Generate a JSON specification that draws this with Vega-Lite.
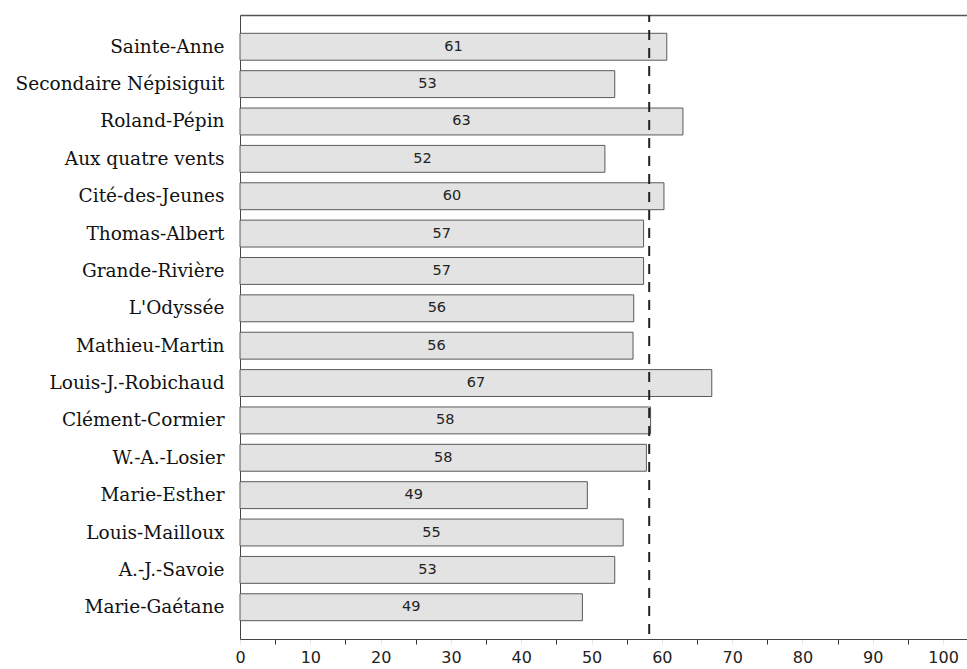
{
  "$schema": "https://vega.github.io/schema/vega-lite/v6.json",
  "width": 727,
  "height": 624,
  "autosize": {"type": "none"},
  "padding": {"left": 240, "top": 15, "right": 0, "bottom": 30},
  "background": "white",
  "config": {"view": {"stroke": null}},
  "data": {
    "values": [
      {"school": "Sainte-Anne", "score": 60.7},
      {"school": "Secondaire Népisiguit", "score": 53.3},
      {"school": "Roland-Pépin", "score": 63.0},
      {"school": "Aux quatre vents", "score": 51.9},
      {"school": "Cité-des-Jeunes", "score": 60.3},
      {"school": "Thomas-Albert", "score": 57.4},
      {"school": "Grande-Rivière", "score": 57.4},
      {"school": "L'Odyssée", "score": 56.0},
      {"school": "Mathieu-Martin", "score": 55.9},
      {"school": "Louis-J.-Robichaud", "score": 67.1},
      {"school": "Clément-Cormier", "score": 58.4},
      {"school": "W.-A.-Losier", "score": 57.8},
      {"school": "Marie-Esther", "score": 49.4},
      {"school": "Louis-Mailloux", "score": 54.5},
      {"school": "A.-J.-Savoie", "score": 53.3},
      {"school": "Marie-Gaétane", "score": 48.7}
    ]
  },
  "layer": [
    {
      "mark": {"type": "bar", "fill": "#e3e3e3", "stroke": "#5a5a5a", "strokeWidth": 1},
      "encoding": {
        "y": {
          "field": "school", "type": "nominal", "sort": null,
          "scale": {"paddingInner": 0.28, "paddingOuter": 0.49},
          "axis": {"title": null, "ticks": false, "labelFont": "DejaVu Serif", "labelFontSize": 18.5, "labelColor": "#111", "labelPadding": 16, "domainColor": "#444", "labelLimit": 0}
        },
        "x": {
          "field": "score", "type": "quantitative",
          "scale": {"domain": [0, 103.4], "nice": false},
          "axis": {
            "title": null,
            "values": [0, 5, 10, 15, 20, 25, 30, 35, 40, 45, 50, 55, 60, 65, 70, 75, 80, 85, 90, 95, 100],
            "labelExpr": "datum.value % 10 === 0 ? datum.label : ''",
            "tickColor": {"condition": {"test": "datum.value % 10 === 0", "value": "#e6e6e6"}, "value": "#333333"},
            "tickSize": 5,
            "domainColor": "#444",
            "labelFont": "DejaVu Sans",
            "labelFontSize": 16,
            "labelColor": "#222",
            "labelPadding": 5,
            "labelFlush": false,
            "labelOverlap": false,
            "grid": false
          }
        }
      }
    },
    {
      "data": {"values": [{"reference": 58.2}]},
      "mark": {"type": "rule", "strokeDash": [10, 8], "strokeDashOffset": 3, "strokeWidth": 2, "color": "#222"},
      "encoding": {
        "x": {
          "field": "reference", "type": "quantitative",
          "scale": {"domain": [0, 103.4], "nice": false},
          "axis": {"orient": "top", "title": null, "labels": false, "ticks": false, "domainColor": "#555", "domainWidth": 1.5, "grid": false}
        }
      }
    },
    {
      "mark": {"type": "text", "font": "DejaVu Sans", "fontSize": 14.5, "color": "#222"},
      "encoding": {
        "y": {"field": "school", "type": "nominal", "sort": null},
        "x": {"field": "score", "type": "quantitative", "scale": {"domain": [0, 206.8], "nice": false}, "axis": null},
        "text": {"field": "score", "type": "quantitative", "format": ".0f"}
      }
    }
  ],
  "resolve": {"scale": {"x": "independent"}}
}
